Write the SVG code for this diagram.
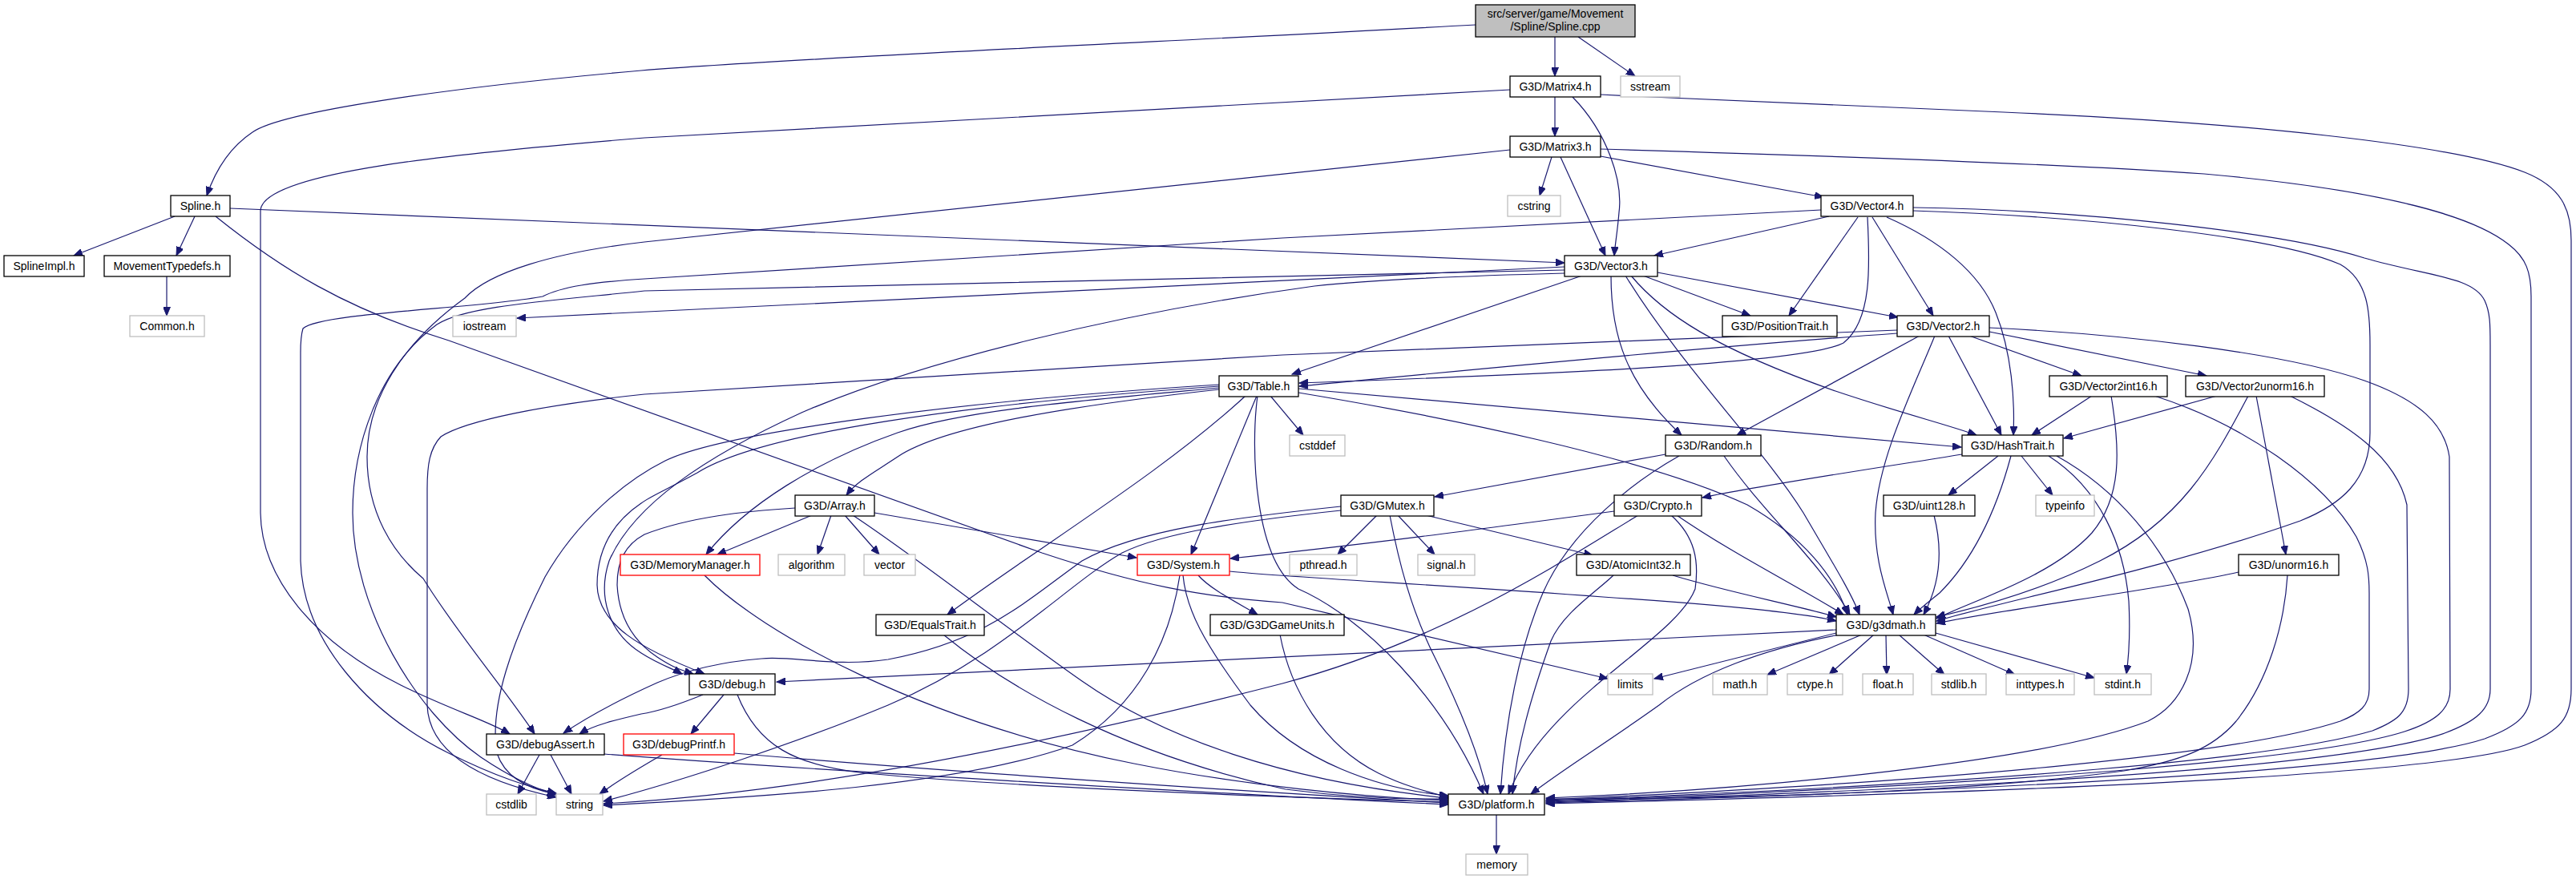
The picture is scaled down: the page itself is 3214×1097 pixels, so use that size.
<svg xmlns="http://www.w3.org/2000/svg" width="3214" height="1097" viewBox="0 0 3214 1097">
<style>
.n rect{fill:#fff;stroke:#000;stroke-width:1.3}
.g rect{fill:#fff;stroke:#bfbfbf;stroke-width:1.3}
.r rect{fill:#fff;stroke:#ff0000;stroke-width:1.3}
.root rect{fill:#bfbfbf;stroke:#000;stroke-width:1.3}
text{font-family:"Liberation Sans",Arial,sans-serif;font-size:14px;text-anchor:middle;fill:#000}
.e path{fill:none;stroke:#191970;stroke-width:1.2;marker-end:url(#arr)}
</style>
<defs>
<marker id="arr" markerUnits="userSpaceOnUse" markerWidth="12" markerHeight="9" refX="11" refY="4.5" orient="auto">
<path d="M0,0 L11,4.5 L0,9 Z" fill="#191970" stroke="#191970" stroke-width="1"/>
</marker>
</defs>
<rect width="3214" height="1097" fill="#fff"/>
<g id="edges" class="e">
<path d="M1841,31 C1500,50 1000,72 800,88 C550,110 350,140 315,165 C285,185 268,215 258,244"/>
<path d="M1940,46 L1940,95"/>
<path d="M1969,46 L2040,95"/>
<path d="M1940,121 L1940,170"/>
<path d="M1962,121 C2005,165 2025,225 2020,265 C2018,290 2015,305 2014,319"/>
<path d="M1997,118 C2150,126 2300,131 2500,140 C2800,153 3060,180 3150,215 C3195,233 3208,260 3208,300 L3208,860 C3208,895 3195,912 3150,930 C3070,960 2700,985 1929,1003"/>
<path d="M1884,112 L804,172 C560,192 330,215 325,262 L325,640 C326,720 390,800 500,855 C560,885 610,900 636,916"/>
<path d="M1936,196 L1921,244"/>
<path d="M1947,196 L2003,319"/>
<path d="M1997,195 L2275,246"/>
<path d="M1997,186 C2200,192 2550,203 2750,217 C2950,235 3080,265 3130,305 C3152,322 3158,340 3158,370 L3158,860 C3158,890 3145,905 3100,922 C3000,955 2650,982 1929,1002"/>
<path d="M1884,187 L804,302 C690,315 610,340 580,372 C500,430 458,500 458,570 C458,640 490,690 528,722 C570,790 630,860 667,916"/>
<path d="M218,270 L92,319"/>
<path d="M243,270 L220,319"/>
<path d="M287,260 L1952,328"/>
<path d="M269,270 C350,335 430,385 560,425 L1300,690 C1420,730 1500,745 1600,752 L2006,847"/>
<path d="M208,345 L208,394"/>
<path d="M2282,270 L2064,319"/>
<path d="M2272,262 L1600,297 L804,348 C740,352 700,358 677,370 C600,385 400,390 378,410 C375,420 375,430 375,440 L375,700 C378,800 460,890 560,940 C620,970 660,982 694,990"/>
<path d="M2318,271 L2232,394"/>
<path d="M2330,271 C2333,330 2336,400 2300,428 C2250,455 1900,468 1621,478"/>
<path d="M2336,271 L2412,394"/>
<path d="M2354,271 C2420,300 2470,340 2490,390 C2510,440 2514,500 2512,543"/>
<path d="M2387,263 C2600,270 2840,295 2920,330 C2955,350 2957,390 2957,430 L2957,540 C2957,600 2920,630 2870,650 C2700,710 2500,750 2416,775"/>
<path d="M2387,259 C2600,262 2850,290 2950,322 C3030,345 3085,345 3100,375 C3107,390 3107,405 3107,430 L3107,860 C3107,885 3090,900 3050,915 C2950,950 2600,980 1929,1001"/>
<path d="M1952,333 L645,397"/>
<path d="M1952,337 L804,363 C680,376 580,382 545,405 C470,460 440,560 440,640 C440,760 520,890 600,945 C640,972 670,985 694,992"/>
<path d="M1952,341 C1800,345 1700,350 1640,357 C1400,390 1150,450 1000,515 C880,570 790,630 760,700 C745,745 760,790 800,815 C820,828 840,835 851,841"/>
<path d="M1974,344 L1612,467"/>
<path d="M2010,344 C2010,420 2030,480 2098,543"/>
<path d="M2028,344 C2100,460 2200,560 2250,640 C2285,700 2310,740 2320,767"/>
<path d="M2035,344 C2075,392 2140,435 2290,488 C2370,515 2430,530 2466,543"/>
<path d="M2050,344 L2184,394"/>
<path d="M2068,340 L2368,396"/>
<path d="M2367,416 C2100,435 1800,465 1621,482"/>
<path d="M2367,412 L1600,443 L804,492 C680,505 580,525 550,545 C536,560 533,580 533,610 L533,880 C535,940 600,975 694,995"/>
<path d="M2395,419 L2167,543"/>
<path d="M2414,419 C2385,490 2345,570 2340,640 C2337,700 2355,740 2362,767"/>
<path d="M2431,419 L2497,543"/>
<path d="M2457,419 L2597,469"/>
<path d="M2482,414 L2753,469"/>
<path d="M2482,409 C2650,417 2850,440 2950,475 C3020,500 3050,530 3056,570 L3057,860 C3057,885 3040,900 3000,913 C2900,945 2550,978 1929,1000"/>
<path d="M2610,494 L2535,543"/>
<path d="M2634,494 C2645,560 2648,620 2610,665 C2560,720 2460,750 2416,772"/>
<path d="M2688,494 C2800,530 2900,600 2940,670 C2955,700 2956,720 2956,740 L2956,860 C2956,880 2945,890 2920,900 C2800,940 2450,975 1929,998"/>
<path d="M2766,494 L2575,547"/>
<path d="M2805,494 C2760,580 2720,650 2620,700 C2540,740 2460,760 2416,770"/>
<path d="M2815,494 L2852,692"/>
<path d="M2857,494 C2930,530 2990,570 3003,630 L3005,860 C3005,890 2990,900 2960,912 C2850,945 2500,978 1929,999"/>
<path d="M2793,714 C2700,735 2500,760 2416,778"/>
<path d="M2854,718 C2850,780 2830,850 2790,900 C2760,935 2720,950 2650,962 C2450,990 2150,997 1929,997"/>
<path d="M2493,569 L2431,618"/>
<path d="M2522,569 L2561,618"/>
<path d="M2448,567 C2400,575 2200,605 2124,621"/>
<path d="M2509,569 C2490,640 2460,700 2420,740 C2405,752 2395,760 2388,767"/>
<path d="M2556,569 C2620,610 2650,680 2656,750 C2658,790 2656,820 2653,841"/>
<path d="M2566,569 C2640,610 2700,680 2730,760 C2750,830 2720,880 2680,900 C2550,950 2200,985 1929,996"/>
<path d="M2413,643 C2425,690 2420,730 2400,767"/>
<path d="M1620,485 L2447,558"/>
<path d="M1620,490 C1800,520 2050,570 2180,630 C2250,670 2290,720 2305,767"/>
<path d="M1521,486 C1350,505 1180,530 1120,570 C1090,590 1070,600 1056,618"/>
<path d="M1521,484 C1350,500 1200,512 1120,540 C1020,575 930,630 881,692"/>
<path d="M1521,482 C1200,505 950,540 870,590 C830,612 810,620 800,628 C760,655 745,690 745,730 C746,780 800,810 879,841"/>
<path d="M1521,480 C1200,500 900,540 830,575 C780,600 720,650 680,720 C640,800 610,880 620,940 C630,970 660,985 694,991"/>
<path d="M1568,494 L1486,692"/>
<path d="M1554,494 C1450,590 1300,680 1182,767"/>
<path d="M1585,494 L1626,543"/>
<path d="M1569,494 C1560,560 1565,700 1620,735 C1700,770 1800,870 1851,991"/>
<path d="M2078,567 L1790,620"/>
<path d="M2151,569 C2200,640 2270,700 2308,767"/>
<path d="M2095,569 C2040,600 1960,660 1925,740 C1895,810 1878,900 1872,991"/>
<path d="M1718,643 L1669,692"/>
<path d="M1744,643 L1790,692"/>
<path d="M1779,643 L1987,693"/>
<path d="M1734,643 C1745,700 1760,760 1790,820 C1820,880 1845,940 1856,991"/>
<path d="M1673,632 C1550,645 1420,660 1350,700 C1280,750 1230,800 1108,823 C1040,833 990,818 950,822 C900,826 860,835 820,852 C780,870 740,890 703,915"/>
<path d="M1673,637 C1550,650 1450,665 1400,690 C1330,730 1250,820 1108,880 C1000,925 850,975 753,1000"/>
<path d="M2014,638 C1850,660 1700,680 1535,697"/>
<path d="M2044,643 C1950,700 1800,800 1600,853 C1300,930 1000,990 753,1003"/>
<path d="M2092,643 C2160,690 2240,730 2300,767"/>
<path d="M2085,643 C2115,670 2120,700 2115,735 C2090,800 1930,870 1882,991"/>
<path d="M2013,718 C1990,740 1950,765 1935,800 C1910,870 1893,930 1887,991"/>
<path d="M2087,718 C2160,740 2240,755 2291,770"/>
<path d="M1013,643 L895,692"/>
<path d="M1037,643 L1020,692"/>
<path d="M1054,643 L1097,692"/>
<path d="M1091,640 L1418,696"/>
<path d="M992,634 C930,638 860,645 804,667 C780,680 770,700 770,730 C772,770 790,800 820,820 C835,830 845,835 865,841"/>
<path d="M1064,643 C1150,700 1250,780 1350,850 C1450,920 1600,975 1807,996"/>
<path d="M879,718 C950,790 1150,900 1415,953 C1550,980 1700,995 1807,999"/>
<path d="M1495,718 C1510,735 1540,750 1569,767"/>
<path d="M1534,713 C1600,720 1800,730 2000,745 C2150,755 2250,765 2291,775"/>
<path d="M1476,718 C1480,760 1500,800 1560,880 C1620,950 1720,985 1807,993"/>
<path d="M1472,718 C1460,800 1420,880 1338,930 C1200,980 950,995 753,1005"/>
<path d="M1597,792 C1610,860 1650,930 1720,965 C1750,980 1780,988 1807,995"/>
<path d="M1177,792 C1260,860 1400,940 1604,985 C1680,995 1750,998 1807,997"/>
<path d="M2291,790 L2064,847"/>
<path d="M2323,792 L2205,842"/>
<path d="M2338,792 L2282,842"/>
<path d="M2353,792 L2354,842"/>
<path d="M2369,792 L2426,842"/>
<path d="M2400,792 L2514,842"/>
<path d="M2415,790 L2613,846"/>
<path d="M2291,786 L969,851"/>
<path d="M2295,792 C2200,810 2120,840 2070,880 C2000,930 1950,960 1910,991"/>
<path d="M903,867 L862,916"/>
<path d="M877,867 C850,878 820,888 800,891 C770,898 740,905 723,916"/>
<path d="M920,867 C945,930 990,955 1080,965 C1300,985 1600,995 1807,1001"/>
<path d="M826,942 C800,957 770,975 748,991"/>
<path d="M916,940 C1150,960 1500,985 1807,1002"/>
<path d="M673,942 L646,991"/>
<path d="M687,942 L713,991"/>
<path d="M754,941 C1000,960 1500,990 1807,1004"/>
<path d="M1867,1017 L1867,1066"/>
</g>
<g id="n_cpp" class="root"><rect x="1841" y="6" width="199" height="40"/><text x="1940.5" y="22">src/server/game/Movement</text><text x="1940.5" y="38">/Spline/Spline.cpp</text></g>
<g id="n_matrix4" class="n"><rect x="1884" y="95" width="113" height="26"/><text x="1940.5" y="113">G3D/Matrix4.h</text></g>
<g id="n_sstream" class="g"><rect x="2022" y="95" width="74" height="26"/><text x="2059" y="113">sstream</text></g>
<g id="n_matrix3" class="n"><rect x="1884" y="170" width="113" height="26"/><text x="1940.5" y="188">G3D/Matrix3.h</text></g>
<g id="n_cstring" class="g"><rect x="1881" y="244" width="66" height="26"/><text x="1914" y="262">cstring</text></g>
<g id="n_vector4" class="n"><rect x="2272" y="244" width="115" height="26"/><text x="2329.5" y="262">G3D/Vector4.h</text></g>
<g id="n_spline" class="n"><rect x="213" y="244" width="74" height="26"/><text x="250" y="262">Spline.h</text></g>
<g id="n_splineimpl" class="n"><rect x="5" y="319" width="100" height="26"/><text x="55" y="337">SplineImpl.h</text></g>
<g id="n_movtypedefs" class="n"><rect x="130" y="319" width="157" height="26"/><text x="208.5" y="337">MovementTypedefs.h</text></g>
<g id="n_vector3" class="n"><rect x="1952" y="319" width="116" height="26"/><text x="2010" y="337">G3D/Vector3.h</text></g>
<g id="n_common" class="g"><rect x="162" y="394" width="93" height="26"/><text x="208.5" y="412">Common.h</text></g>
<g id="n_iostream" class="g"><rect x="565" y="394" width="79" height="26"/><text x="604.5" y="412">iostream</text></g>
<g id="n_positiontrait" class="n"><rect x="2149" y="394" width="143" height="26"/><text x="2220.5" y="412">G3D/PositionTrait.h</text></g>
<g id="n_vector2" class="n"><rect x="2367" y="394" width="115" height="26"/><text x="2424.5" y="412">G3D/Vector2.h</text></g>
<g id="n_table" class="n"><rect x="1521" y="469" width="99" height="26"/><text x="1570.5" y="487">G3D/Table.h</text></g>
<g id="n_vector2int16" class="n"><rect x="2557" y="469" width="147" height="26"/><text x="2630.5" y="487">G3D/Vector2int16.h</text></g>
<g id="n_vector2unorm16" class="n"><rect x="2727" y="469" width="173" height="26"/><text x="2813.5" y="487">G3D/Vector2unorm16.h</text></g>
<g id="n_cstddef" class="g"><rect x="1609" y="543" width="69" height="26"/><text x="1643.5" y="561">cstddef</text></g>
<g id="n_random" class="n"><rect x="2078" y="543" width="119" height="26"/><text x="2137.5" y="561">G3D/Random.h</text></g>
<g id="n_hashtrait" class="n"><rect x="2448" y="543" width="126" height="26"/><text x="2511" y="561">G3D/HashTrait.h</text></g>
<g id="n_array" class="n"><rect x="992" y="618" width="99" height="26"/><text x="1041.5" y="636">G3D/Array.h</text></g>
<g id="n_gmutex" class="n"><rect x="1673" y="618" width="116" height="26"/><text x="1731" y="636">G3D/GMutex.h</text></g>
<g id="n_crypto" class="n"><rect x="2014" y="618" width="109" height="26"/><text x="2068.5" y="636">G3D/Crypto.h</text></g>
<g id="n_uint128" class="n"><rect x="2350" y="618" width="114" height="26"/><text x="2407" y="636">G3D/uint128.h</text></g>
<g id="n_typeinfo" class="g"><rect x="2540" y="618" width="73" height="26"/><text x="2576.5" y="636">typeinfo</text></g>
<g id="n_memorymanager" class="r"><rect x="774" y="692" width="174" height="26"/><text x="861" y="710">G3D/MemoryManager.h</text></g>
<g id="n_algorithm" class="g"><rect x="971" y="692" width="83" height="26"/><text x="1012.5" y="710">algorithm</text></g>
<g id="n_vector" class="g"><rect x="1078" y="692" width="64" height="26"/><text x="1110" y="710">vector</text></g>
<g id="n_system" class="r"><rect x="1419" y="692" width="115" height="26"/><text x="1476.5" y="710">G3D/System.h</text></g>
<g id="n_pthread" class="g"><rect x="1609" y="692" width="84" height="26"/><text x="1651" y="710">pthread.h</text></g>
<g id="n_signal" class="g"><rect x="1769" y="692" width="71" height="26"/><text x="1804.5" y="710">signal.h</text></g>
<g id="n_atomicint32" class="n"><rect x="1967" y="692" width="142" height="26"/><text x="2038" y="710">G3D/AtomicInt32.h</text></g>
<g id="n_unorm16" class="n"><rect x="2793" y="692" width="125" height="26"/><text x="2855.5" y="710">G3D/unorm16.h</text></g>
<g id="n_equalstrait" class="n"><rect x="1093" y="767" width="135" height="26"/><text x="1160.5" y="785">G3D/EqualsTrait.h</text></g>
<g id="n_g3dgameunits" class="n"><rect x="1510" y="767" width="167" height="26"/><text x="1593.5" y="785">G3D/G3DGameUnits.h</text></g>
<g id="n_g3dmath" class="n"><rect x="2291" y="767" width="124" height="26"/><text x="2353" y="785">G3D/g3dmath.h</text></g>
<g id="n_debug" class="n"><rect x="860" y="841" width="107" height="26"/><text x="913.5" y="859">G3D/debug.h</text></g>
<g id="n_limits" class="g"><rect x="2006" y="841" width="56" height="26"/><text x="2034" y="859">limits</text></g>
<g id="n_math" class="g"><rect x="2137" y="841" width="68" height="26"/><text x="2171" y="859">math.h</text></g>
<g id="n_ctype" class="g"><rect x="2230" y="841" width="69" height="26"/><text x="2264.5" y="859">ctype.h</text></g>
<g id="n_float" class="g"><rect x="2324" y="841" width="63" height="26"/><text x="2355.5" y="859">float.h</text></g>
<g id="n_stdlib" class="g"><rect x="2410" y="841" width="68" height="26"/><text x="2444" y="859">stdlib.h</text></g>
<g id="n_inttypes" class="g"><rect x="2503" y="841" width="85" height="26"/><text x="2545.5" y="859">inttypes.h</text></g>
<g id="n_stdint" class="g"><rect x="2613" y="841" width="71" height="26"/><text x="2648.5" y="859">stdint.h</text></g>
<g id="n_debugassert" class="n"><rect x="607" y="916" width="147" height="26"/><text x="680.5" y="934">G3D/debugAssert.h</text></g>
<g id="n_debugprintf" class="r"><rect x="778" y="916" width="138" height="26"/><text x="847" y="934">G3D/debugPrintf.h</text></g>
<g id="n_cstdlib" class="g"><rect x="607" y="991" width="62" height="26"/><text x="638" y="1009">cstdlib</text></g>
<g id="n_string" class="g"><rect x="694" y="991" width="58" height="26"/><text x="723" y="1009">string</text></g>
<g id="n_platform" class="n"><rect x="1807" y="991" width="120" height="26"/><text x="1867" y="1009">G3D/platform.h</text></g>
<g id="n_memory" class="g"><rect x="1829" y="1066" width="77" height="26"/><text x="1867.5" y="1084">memory</text></g>
</svg>
